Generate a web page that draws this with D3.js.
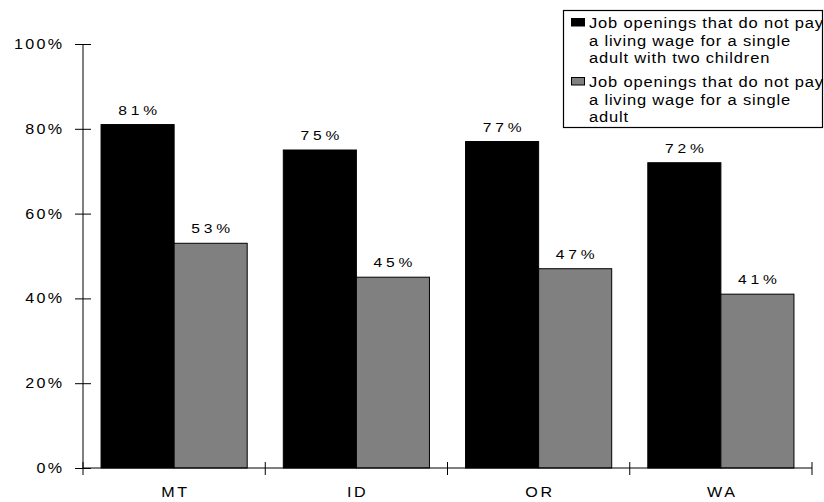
<!DOCTYPE html>
<html><head><meta charset="utf-8">
<script src="https://cdn.jsdelivr.net/npm/d3@7"></script>
<style>
html,body{margin:0;padding:0;background:#fff;}
svg{display:block;font-family:"Liberation Sans",Arial,sans-serif;}
</style></head>
<body><svg id="c" width="824" height="502"></svg>
<script>
const categories = ["MT","ID","OR","WA"];
const seriesNames = ["Job openings that do not pay a living wage for a single adult with two children",
                     "Job openings that do not pay a living wage for a single adult"];
const legendLines = [["Job openings that do not pay","a living wage for a single","adult with two children"],
                     ["Job openings that do not pay","a living wage for a single","adult"]];
const twoChildren = [0.81,0.75,0.77,0.72];
const singleAdult = [0.53,0.45,0.47,0.41];
const yTicks = [0,0.2,0.4,0.6,0.8,1.0];
const colors = ["#000000","#808080"];

const svg = d3.select("#c");
const x0 = 83, x1 = 812, yBase = 468, yTop = 44;
const x = d3.scaleBand().domain(categories).range([x0,x1]).padding(0);
const xs = d3.scaleBand().domain([0,1]).range([0,x.bandwidth()]).paddingInner(0).paddingOuter(0.247);
const y = d3.scaleLinear().domain([0,1]).range([yBase,yTop]);
const fmt = d3.format(".0%");
const series = [twoChildren, singleAdult];
const tr = (px,py,k)=>`translate(${px},${py}) scale(${k},1)`;

// bars + value labels
series.forEach((vals,si)=>{
  svg.append("g").selectAll("rect").data(categories).join("rect")
    .attr("x",c=>x(c)+xs(si)).attr("width",xs.bandwidth())
    .attr("y",(c,i)=>y(vals[i])).attr("height",(c,i)=>yBase-y(vals[i]))
    .attr("fill",colors[si]).attr("stroke","#000").attr("stroke-width",1);
  svg.append("g").selectAll("text").data(categories).join("text")
    .attr("transform",(c,i)=>tr(x(c)+xs(si)+xs.bandwidth()/2, y(vals[i])-10, 1.2))
    .attr("dx",1.6)
    .attr("text-anchor","middle").attr("font-size",13).attr("letter-spacing",3.2)
    .attr("fill","#000").text((c,i)=>fmt(vals[i]));
});

// y axis
const yAxis = d3.axisLeft(y).tickValues(yTicks).tickFormat(fmt).tickSize(8).tickPadding(21);
const gy = svg.append("g").attr("transform",`translate(${x0},0)`).call(yAxis);
gy.select(".domain").attr("d",`M0,${yTop}V${yBase}`).attr("stroke","#000");
gy.selectAll(".tick line").attr("x1",-8).attr("x2",8).attr("stroke","#000");
gy.selectAll(".tick text").attr("font-size",14).attr("letter-spacing",2)
  .attr("dy",null).attr("x",0).attr("y",0).attr("dx",2).attr("text-anchor","end")
  .attr("transform",tr(-21,4.5,1.15))
  .attr("font-family","'Liberation Sans',Arial,sans-serif").attr("fill","#000");

// x axis
const xAxis = d3.axisBottom(x).tickSize(0).tickPadding(0);
const gx = svg.append("g").attr("transform",`translate(0,${yBase})`).call(xAxis);
gx.select(".domain").attr("d",`M${x0},0H${x1}`).attr("stroke","#000");
gx.selectAll(".tick text").attr("font-size",14).attr("letter-spacing",2.3)
  .attr("dy",null).attr("x",0).attr("y",0).attr("dx",1.15).attr("text-anchor","middle")
  .attr("transform",tr(0,29,1.15))
  .attr("font-family","'Liberation Sans',Arial,sans-serif").attr("fill","#000");
const bounds = categories.map(c=>x(c)).concat([x1]);
gx.append("g").selectAll("line").data(bounds).join("line")
  .attr("x1",d=>d).attr("x2",d=>d).attr("y1",-6).attr("y2",7).attr("stroke","#000");

// legend
const lg = svg.append("g");
lg.append("rect").attr("x",563.5).attr("y",10.5).attr("width",259).attr("height",117)
  .attr("fill","#fff").attr("stroke","#000").attr("stroke-width",1.2);
const itemY = [18,77];
legendLines.forEach((lines,si)=>{
  lg.append("rect").attr("x",571.5).attr("y",itemY[si]+0.5).attr("width",13).attr("height",7.5)
    .attr("fill",colors[si]).attr("stroke","#000");
  lines.forEach((t,li)=>{
    lg.append("text").attr("transform",tr(589,itemY[si]+10+li*17.7,1.1))
      .attr("font-size",15).attr("letter-spacing",0.75).attr("fill","#000").text(t);
  });
});
</script></body></html>
